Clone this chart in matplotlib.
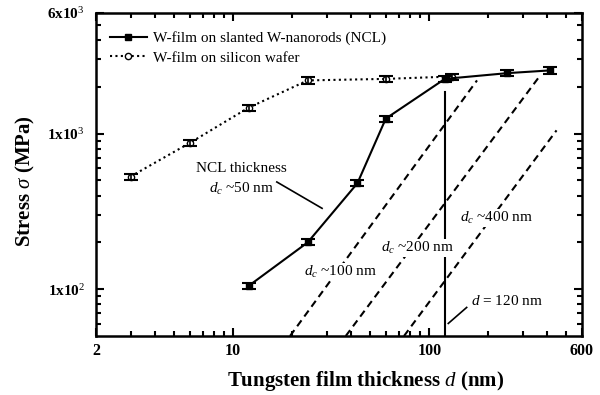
import matplotlib
matplotlib.use("Agg")
import matplotlib.pyplot as plt
from matplotlib.ticker import FixedLocator, NullFormatter

plt.rcParams["font.family"] = ["Liberation Serif", "DejaVu Serif"]
plt.rcParams["mathtext.fontset"] = "custom"
plt.rcParams["mathtext.rm"] = "Liberation Serif"
plt.rcParams["mathtext.it"] = "Liberation Serif:italic"
plt.rcParams["mathtext.bf"] = "Liberation Serif:bold"

# W-film on slanted W-nanorods (NCL)
ncl_d = [12, 24, 43, 60, 120, 250, 410]
ncl_s = [105, 200, 480, 1250, 2250, 2450, 2550]
ncl_err = [5, 9, 22, 56, 100, 110, 115]

# W-film on silicon wafer
si_d = [3, 6, 12, 24, 60, 130]
si_s = [530, 870, 1470, 2200, 2250, 2330]
si_err = [24, 39, 66, 99, 100, 105]

# guide lines for different NCL thicknesses (start / end points)
guide_labels = ["$d_c$ ~100 nm", "$d_c$ ~200 nm", "$d_c$ ~400 nm"]
guide_d0 = [19.5, 37.5, 74.3]
guide_s0 = [50, 50, 50]
guide_d1 = [175, 362, 445]
guide_s1 = [2200, 2310, 1050]

# vertical marker at d = 120 nm
mark_d = 120
mark_s_top = 1850

x_ticks = [2, 10, 100, 600]
x_ticklabels = ["2", "10", "100", "600"]
y_ticks = [100, 1000, 6000]
y_ticklabels = ["1x10$^{2}$", "1x10$^{3}$", "6x10$^{3}$"]

fig = plt.figure(figsize=(6.0, 3.95), dpi=100)
ax = fig.add_axes([0.16, 0.1494, 0.81, 0.8186])
ax.set_xscale("log")
ax.set_yscale("log")
ax.set_xlim(2, 600)
ax.set_ylim(50, 6000)

lw = 1.5
# dashed guides
for d0, s0, d1, s1 in zip(guide_d0, guide_s0, guide_d1, guide_s1):
    ax.plot([d0, d1], [s0, s1], color="black", lw=lw,
            linestyle=(0, (3.5, 2.3)), zorder=2)

# vertical line at d = 120 nm
ax.plot([mark_d, mark_d], [50, mark_s_top], color="black", lw=lw, zorder=2)

# silicon wafer series
ax.plot(si_d, si_s, color="black", lw=lw, linestyle=(0, (1, 1.6)),
        marker="o", markersize=4.5, markerfacecolor="white",
        markeredgecolor="black", markeredgewidth=1.0,
        label="W-film on silicon wafer", zorder=3)
ax.errorbar(si_d, si_s, yerr=si_err, fmt="none", ecolor="black",
            elinewidth=1.2, capsize=4.7, capthick=1.5, zorder=3)

# NCL series
ax.plot(ncl_d, ncl_s, color="black", lw=lw, linestyle="-",
        marker="s", markersize=5, markerfacecolor="black",
        markeredgecolor="black",
        label="W-film on slanted W-nanorods (NCL)", zorder=4)
ax.errorbar(ncl_d, ncl_s, yerr=ncl_err, fmt="none", ecolor="black",
            elinewidth=1.2, capsize=4.7, capthick=1.5, zorder=4)

# text annotations (white boxes cut the lines they cover)
box = dict(facecolor="white", edgecolor="none", pad=0.6)
ax.text(11.0, 598, "NCL thickness", ha="center", va="center",
        fontsize=11, zorder=6)
ax.text(11.0, 440, "$d_c$ ~50 nm", ha="center", va="center",
        fontsize=11, zorder=6)
ax.plot([16.7, 28.4], [489, 331], color="black", lw=1.2, zorder=5)

guide_text_d = [35.3, 86.6, 218.4]
guide_text_s = [130, 184, 287]
for label, td, ts in zip(guide_labels, guide_text_d, guide_text_s):
    ax.text(td, ts, label, ha="center", va="center", fontsize=11,
            bbox=box, zorder=6)

ax.text(249.8, 84.1, "$d$ = 120 nm", ha="center", va="center",
        fontsize=11, zorder=6)
ax.plot([124.9, 155], [60.2, 76.3], color="black", lw=1.2, zorder=5)

# axes, ticks
for sp in ax.spines.values():
    sp.set_linewidth(1.8)

ax.xaxis.set_major_locator(FixedLocator(x_ticks))
ax.set_xticklabels(x_ticklabels, fontweight="bold", fontsize=11.5)
x_minor = [3, 4, 5, 6, 7, 8, 9, 20, 30, 40, 50, 60, 70, 80, 90,
           200, 300, 400, 500]
ax.xaxis.set_minor_locator(FixedLocator(x_minor))
ax.xaxis.set_minor_formatter(NullFormatter())

ax.yaxis.set_major_locator(FixedLocator(y_ticks))
ax.set_yticklabels(y_ticklabels, fontweight="bold", fontsize=11)
y_minor = [60, 70, 80, 90, 200, 300, 400, 500, 600, 700, 800, 900,
           2000, 3000, 4000, 5000]
ax.yaxis.set_minor_locator(FixedLocator(y_minor))
ax.yaxis.set_minor_formatter(NullFormatter())

ax.tick_params(which="both", direction="in", top=True, right=True,
               width=1.5)
ax.tick_params(which="major", length=6)
ax.tick_params(which="minor", length=3.5)
ax.tick_params(axis="x", which="major", pad=5)
ax.tick_params(axis="y", which="major", pad=8)

fig.text(366 / 600, 1 - 381 / 395, "Tungsten film thickness $d$ (nm)",
         ha="center", va="center", fontsize=15, fontweight="bold")
fig.text(25 / 600, 1 - 181 / 395, r"Stress $\sigma$ (MPa)", ha="center",
         va="center", rotation=90, fontsize=15, fontweight="bold")

leg = ax.legend(loc="upper left", bbox_to_anchor=(0.01, 0.97),
                frameon=False, fontsize=11, handlelength=2.4,
                handletextpad=0.4, labelspacing=0.35, borderaxespad=0.2)
# legend order: NCL first
handles, labels = ax.get_legend_handles_labels()
ax.legend(handles[::-1], labels[::-1], loc="upper left",
          bbox_to_anchor=(0.01, 0.97), frameon=False, fontsize=11,
          handlelength=2.4, handletextpad=0.4, labelspacing=0.35,
          borderaxespad=0.2)

fig.savefig("out.png", dpi=100)
